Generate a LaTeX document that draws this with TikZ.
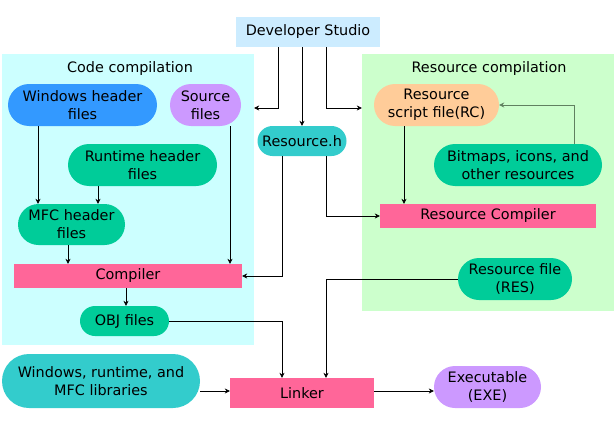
\documentclass[tikz,border=0pt]{standalone}
\usepackage{fontspec}
\setmainfont{DejaVu Sans}
\usetikzlibrary{arrows.meta,shapes.misc}

\definecolor{devbg}  {RGB}{204,236,255}
\definecolor{codebg} {RGB}{204,255,255}
\definecolor{resbg}  {RGB}{204,255,204}
\definecolor{winblue}{RGB}{51,153,255}
\definecolor{lilac}  {RGB}{204,153,255}
\definecolor{mint}   {RGB}{0,204,153}
\definecolor{teal}   {RGB}{51,204,204}
\definecolor{peach}  {RGB}{255,204,153}
\definecolor{tool}   {RGB}{255,102,153}
\definecolor{greyline}{RGB}{96,128,96}

\begin{document}
\begin{tikzpicture}[x=1pt,y=-1pt,
    every node/.style={font=\fontsize{14.4}{18}\selectfont, align=center, inner sep=0pt},
    panel/.style={draw=none, rectangle},
    file/.style={rounded rectangle, draw=none},
    toolbox/.style={rectangle, draw=none, fill=tool},
    arr/.style={-{Stealth[length=5pt,width=5pt]}, semithick}]

    \useasboundingbox (0,0) rectangle (616,423);

    % panels
    \node[panel, fill=codebg, minimum width=252, minimum height=291] (codebox) at (128,199.5) {};
    \node[panel, fill=resbg, minimum width=252, minimum height=257] (resbox) at (488,182.5) {};
    \node (codetitle) at (130,69) {Code compilation};
    \node (restitle) at (489,69) {Resource compilation};

    \node[panel, fill=devbg, minimum width=144, minimum height=30] (dev) at (308,32) {Developer Studio};

    % code side
    \node[file, fill=winblue, minimum width=149, minimum height=42] (winh) at (82.5,105) {Windows header\\files};
    \node[file, fill=lilac, minimum width=71, minimum height=42] (src) at (205.5,105) {Source\\files};
    \node[file, fill=mint, minimum width=149, minimum height=42] (rth) at (142.5,165) {Runtime header\\files};
    \node[file, fill=mint, minimum width=107, minimum height=41] (mfch) at (71.5,224.5) {MFC header\\files};
    \node[toolbox, minimum width=228, minimum height=24] (comp) at (128,276) {Compiler};
    \node[file, fill=mint, minimum width=89, minimum height=30] (obj) at (124.5,321) {OBJ files};

    \node[file, fill=teal, minimum width=89, minimum height=30] (resh) at (302,141) {Resource.h};

    % resource side
    \node[file, fill=peach, minimum width=125, minimum height=42] (rc) at (436.5,105) {Resource\\script file(RC)};
    \node[file, fill=mint, minimum width=168, minimum height=42] (bmp) at (518,165) {Bitmaps, icons, and\\other resources};
    \node[toolbox, minimum width=216, minimum height=24] (rcomp) at (488,216) {Resource Compiler};
    \node[file, fill=mint, minimum width=114, minimum height=42] (res) at (515,279) {Resource file\\(RES)};

    % linking
    \node[file, fill=teal, minimum width=198, minimum height=54] (libs) at (101,381) {Windows, runtime, and\\MFC libraries};
    \node[toolbox, minimum width=144, minimum height=30] (link) at (302,393) {Linker};
    \node[file, fill=lilac, minimum width=107, minimum height=42] (exe) at (487.5,387) {Executable\\(EXE)};

    \draw[arr] ([xshift=-30pt]dev.south) |- ([yshift=-3pt]codebox.east |- src.east);
    \draw[arr] (dev.south -| resh.north) -- (resh.north);
    \draw[arr] ([xshift=18pt]dev.south) |- ([yshift=-3pt]resbox.west |- rc.west);

    \draw[arr, draw=greyline, thick] ([xshift=56pt]bmp.north) |- (rc.east);
    \draw[arr] ([xshift=-32.5pt]rc.south) -- ([xshift=-32.5pt]rc.south |- rcomp.north);
    \draw[arr] ([xshift=24pt]resh.south) |- (rcomp.west);

    \draw[arr] ([xshift=-44.5pt]winh.south) -- ([xshift=-44.5pt]winh.south |- mfch.north);
    \draw[arr] ([xshift=-44.5pt]rth.south) -- ([xshift=-44.5pt]rth.south |- mfch.north);
    \draw[arr] ([xshift=-3.5pt]mfch.south) -- ([xshift=-3.5pt]mfch.south |- comp.north);
    \draw[arr] ([xshift=24.5pt]src.south) -- ([xshift=24.5pt]src.south |- comp.north);
    \draw[arr] ([xshift=-20pt]resh.south) |- (comp.east);
    \draw[arr] ([xshift=-2pt]comp.south) -- ([xshift=-2pt]comp.south |- obj.north);

    \draw[arr] (obj.east) -| ([xshift=-20pt]link.north);
    \draw[arr] (res.west) -| ([xshift=24pt]link.north);
    \draw[arr] ([yshift=2pt]link.west -| libs.east) -- ([yshift=2pt]link.west);
    \draw[arr] ([yshift=2pt]link.east) -- ([yshift=2pt]link.east -| exe.west);

\end{tikzpicture}
\end{document}
